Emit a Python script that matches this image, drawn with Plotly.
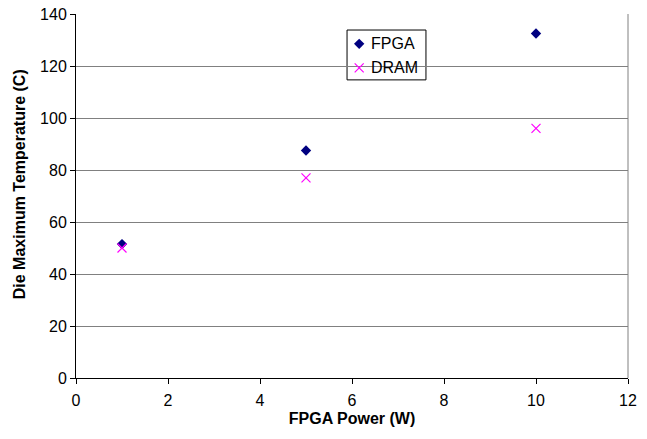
import plotly.graph_objects as go

power = [1, 5, 10]
fpga_temp = [51.5, 87.5, 132.5]
dram_temp = [50, 77, 96]
series_names = ["FPGA", "DRAM"]

family = "Liberation Sans, Arial, sans-serif"
fpga_marker = dict(symbol="diamond", size=8, color="#000080")
dram_marker = dict(symbol="x-thin", size=9, color="#ff00ff",
                   line=dict(color="#ff00ff", width=1.2))

fig = go.Figure()
fig.add_trace(go.Scatter(x=power, y=fpga_temp, mode="markers",
                         name=series_names[0], marker=fpga_marker))
fig.add_trace(go.Scatter(x=power, y=dram_temp, mode="markers",
                         name=series_names[1], marker=dram_marker))

# legend box: frame, swatches on an overlay axis spanning the plot area, labels
lg_x0, lg_x1, lg_y0, lg_y1 = 0.491, 0.634, 0.819, 0.956
sw_x, txt_x = 0.513, 0.531
row_y = [0.918, 0.852]

fig.add_shape(type="rect", xref="paper", yref="paper",
              x0=lg_x0, x1=lg_x1, y0=lg_y0, y1=lg_y1,
              fillcolor="white", line=dict(color="#000", width=1), layer="between")
for name, yy, mk in zip(series_names, row_y, [fpga_marker, dram_marker]):
    fig.add_trace(go.Scatter(x=[sw_x], y=[yy], mode="markers", marker=mk,
                             xaxis="x2", yaxis="y2", showlegend=False,
                             hoverinfo="skip", cliponaxis=False))
    fig.add_annotation(x=txt_x, y=yy, xref="paper", yref="paper", text=name,
                       showarrow=False, xanchor="left", yanchor="middle",
                       font=dict(family=family, size=16, color="#000"))

# y-axis title
fig.add_annotation(x=-0.101, y=0.533, xref="paper", yref="paper",
                   text="<b>Die Maximum Temperature (C)</b>", textangle=-90,
                   showarrow=False, xanchor="center", yanchor="middle",
                   font=dict(family=family, size=16, color="#000"))

fig.update_layout(
    width=647, height=439,
    margin=dict(l=76, r=19, t=14, b=61, autoexpand=False),
    paper_bgcolor="white", plot_bgcolor="white",
    font=dict(family=family, size=16, color="#000"),
    showlegend=False,
    xaxis=dict(
        range=[0, 12], dtick=2, tick0=0, automargin=False,
        showgrid=False, zeroline=False,
        showline=True, linecolor="#000", linewidth=1,
        ticks="outside", ticklen=5, tickcolor="#000",
        tickfont=dict(size=16), ticklabelstandoff=3,
        title=dict(text="<b>FPGA Power (W)</b>", font=dict(size=16), standoff=4),
    ),
    yaxis=dict(
        range=[0, 140], dtick=20, tick0=0, automargin=False,
        showgrid=True, gridcolor="#808080", gridwidth=1,
        zeroline=False,
        showline=True, linecolor="#000", linewidth=1,
        ticks="outside", ticklen=5, tickcolor="#000",
        tickfont=dict(size=16),
    ),
    xaxis2=dict(overlaying="x", range=[0, 1], visible=False, fixedrange=True),
    yaxis2=dict(overlaying="y", range=[0, 1], visible=False, fixedrange=True),
)

# plot-area frame on the right edge
fig.add_shape(type="line", xref="paper", yref="paper", x0=1, x1=1, y0=0, y1=1,
              line=dict(color="#808080", width=1), layer="below")

fig.write_html("out.html")
